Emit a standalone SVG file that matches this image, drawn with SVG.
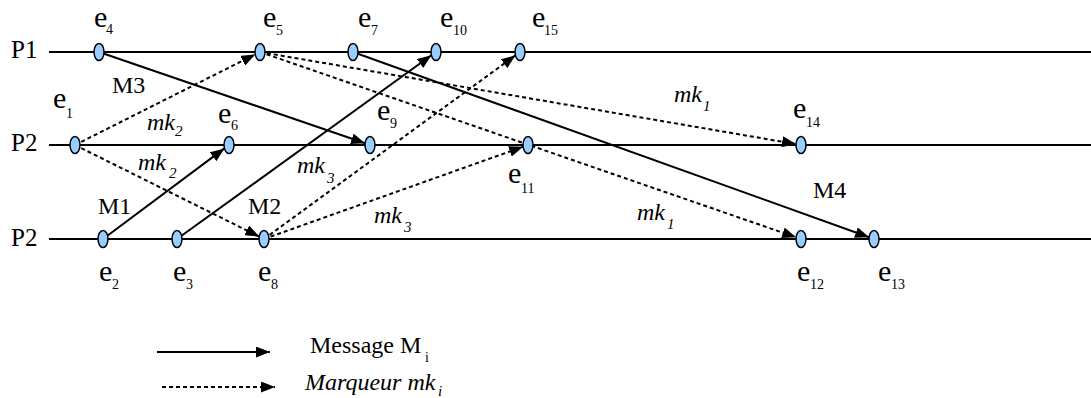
<svg xmlns="http://www.w3.org/2000/svg" width="1091" height="398" viewBox="0 0 1091 398">
<style>
text { font-family: "Liberation Serif", "Times New Roman", serif; fill: #000; }
.p { font-size: 24px; }
.pl { font-size: 25px; }
.ev { font-size: 30px; }
.sub { font-size: 14px; }
.mk { font-size: 24px; font-style: italic; }
.mks { font-size: 15px; font-style: italic; }
.tl { stroke: #000; stroke-width: 2; fill: none; }
.msg { stroke: #000; stroke-width: 2; fill: none; marker-end: url(#ah); }
.mrk { stroke: #000; stroke-width: 2; fill: none; stroke-dasharray: 4 3; marker-end: url(#ah); }
.node ellipse { fill: #99CCFF; stroke: #000; stroke-width: 1.5; }
</style>
<defs>
<marker id="ah" markerUnits="userSpaceOnUse" markerWidth="14" markerHeight="11" refX="14" refY="5.5" orient="auto">
<path d="M0,0 L14,5.5 L0,11 z" fill="#000"/>
</marker>
</defs>
<rect width="1091" height="398" fill="#fff"/>
<g id="timelines">
<line class="tl" x1="49" y1="52" x2="1091" y2="52"/>
<line class="tl" x1="49" y1="145" x2="1091" y2="145"/>
<line class="tl" x1="49" y1="239" x2="1091" y2="239"/>
<text class="pl" x="11" y="58">P1</text>
<text class="pl" x="11" y="151">P2</text>
<text class="pl" x="11" y="246">P2</text>
</g>
<g id="connectors">
<line class="msg" x1="99" y1="52" x2="365.1" y2="143.3"/>
<line class="msg" x1="103" y1="239" x2="224.4" y2="148.4"/>
<line class="msg" x1="177" y1="239" x2="431.4" y2="55.3"/>
<line class="msg" x1="353" y1="52" x2="869.1" y2="237.2"/>
<line class="mrk" x1="75" y1="145" x2="255.2" y2="54.4"/>
<line class="mrk" x1="75" y1="145" x2="259.2" y2="236.6"/>
<line class="mrk" x1="260" y1="52" x2="796" y2="144.1"/>
<line class="mrk" x1="260" y1="52" x2="796.1" y2="237.3"/>
<line class="mrk" x1="264" y1="239" x2="515.4" y2="55.4"/>
<line class="mrk" x1="264" y1="239" x2="523.1" y2="146.7"/>
<text class="p" x="112" y="93">M3</text>
<text class="p" x="98" y="214">M1</text>
<text class="p" x="248" y="214">M2</text>
<text class="p" x="813" y="198">M4</text>
<text class="mk" x="147" y="130">mk<tspan class="mks" x="175" y="136">2</tspan></text>
<text class="mk" x="138" y="170">mk<tspan class="mks" x="169" y="178">2</tspan></text>
<text class="mk" x="297" y="173">mk<tspan class="mks" x="327" y="183">3</tspan></text>
<text class="mk" x="374" y="223">mk<tspan class="mks" x="404" y="232">3</tspan></text>
<text class="mk" x="674" y="102">mk<tspan class="mks" x="703" y="111">1</tspan></text>
<text class="mk" x="637" y="220">mk<tspan class="mks" x="667" y="229">1</tspan></text>
</g>
<g id="e4" class="node"><ellipse cx="99" cy="52" rx="5" ry="8.5"/><text class="ev" x="94" y="27">e<tspan class="sub" x="106" y="34">4</tspan></text></g>
<g id="e5" class="node"><ellipse cx="260" cy="52" rx="5" ry="8.5"/><text class="ev" x="263" y="27">e<tspan class="sub" x="276" y="35">5</tspan></text></g>
<g id="e7" class="node"><ellipse cx="353" cy="52" rx="5" ry="8.5"/><text class="ev" x="358" y="27">e<tspan class="sub" x="371" y="35">7</tspan></text></g>
<g id="e10" class="node"><ellipse cx="436" cy="52" rx="5" ry="8.5"/><text class="ev" x="440" y="27">e<tspan class="sub" x="453" y="35">10</tspan></text></g>
<g id="e15" class="node"><ellipse cx="520" cy="52" rx="5" ry="8.5"/><text class="ev" x="532" y="27">e<tspan class="sub" x="544" y="35">15</tspan></text></g>
<g id="e1" class="node"><ellipse cx="75" cy="145" rx="5" ry="8.5"/><text class="ev" x="53" y="108">e<tspan class="sub" x="66" y="118">1</tspan></text></g>
<g id="e6" class="node"><ellipse cx="229" cy="145" rx="5" ry="8.5"/><text class="ev" x="218" y="123">e<tspan class="sub" x="231" y="130">6</tspan></text></g>
<g id="e9" class="node"><ellipse cx="370" cy="145" rx="5" ry="8.5"/><text class="ev" x="377" y="120">e<tspan class="sub" x="390" y="128">9</tspan></text></g>
<g id="e11" class="node"><ellipse cx="528" cy="145" rx="5" ry="8.5"/><text class="ev" x="508" y="183">e<tspan class="sub" x="521" y="193">11</tspan></text></g>
<g id="e14" class="node"><ellipse cx="801" cy="145" rx="5" ry="8.5"/><text class="ev" x="793" y="118">e<tspan class="sub" x="806" y="127">14</tspan></text></g>
<g id="e2" class="node"><ellipse cx="103" cy="239" rx="5" ry="8.5"/><text class="ev" x="99" y="281">e<tspan class="sub" x="112" y="289">2</tspan></text></g>
<g id="e3" class="node"><ellipse cx="177" cy="239" rx="5" ry="8.5"/><text class="ev" x="173" y="281">e<tspan class="sub" x="186" y="289">3</tspan></text></g>
<g id="e8" class="node"><ellipse cx="264" cy="239" rx="5" ry="8.5"/><text class="ev" x="258" y="281">e<tspan class="sub" x="271" y="289">8</tspan></text></g>
<g id="e12" class="node"><ellipse cx="801" cy="239" rx="5" ry="8.5"/><text class="ev" x="797" y="281">e<tspan class="sub" x="810" y="289">12</tspan></text></g>
<g id="e13" class="node"><ellipse cx="874" cy="239" rx="5" ry="8.5"/><text class="ev" x="878" y="281">e<tspan class="sub" x="891" y="289">13</tspan></text></g>
<g id="legend">
<line class="msg" x1="157" y1="352" x2="270" y2="352"/>
<line class="mrk" x1="162" y1="387" x2="275" y2="387"/>
<text class="p" x="310" y="353" font-size="25">Message M<tspan class="sub" x="425" y="362">i</tspan></text>
<text class="mk" x="305" y="390">Marqueur mk<tspan class="mks" x="438" y="396">i</tspan></text>
</g>
</svg>
